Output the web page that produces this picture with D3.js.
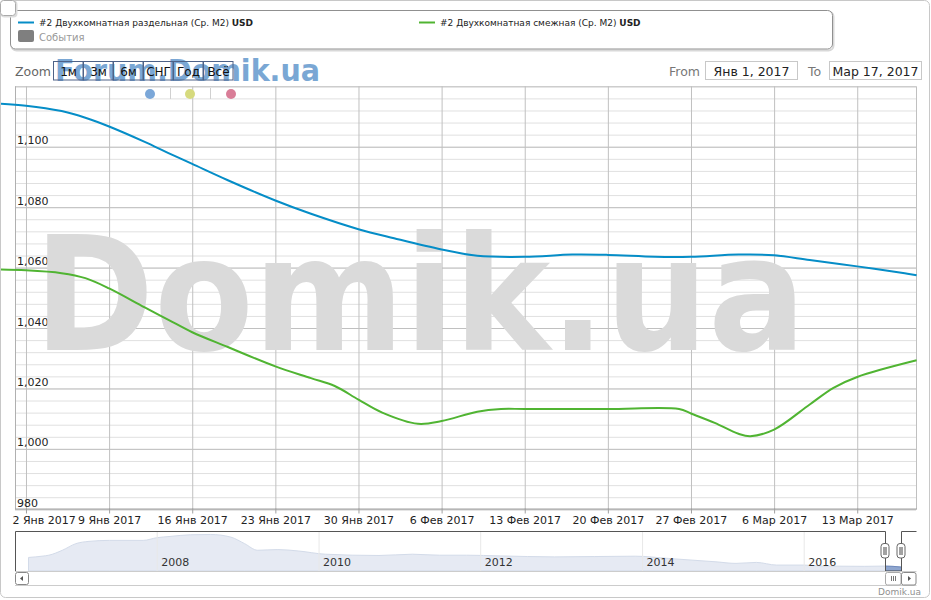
<!DOCTYPE html>
<html><head><meta charset="utf-8">
<script src="https://cdn.jsdelivr.net/npm/d3@7"></script>
<style>
body{margin:0;background:#fff}
svg{display:block;font-family:"DejaVu Sans",sans-serif}
</style>
</head><body>
<svg id="c" width="931" height="600"></svg>
<script>
// ---------- DATA ----------
const seriesNames = ["#2 Двухкомнатная раздельная (Ср. М2)", "#2 Двухкомнатная смежная (Ср. М2)"];
const seriesUnit = "USD";
const seriesColors = ["#058DC7", "#50B432"];
const eventsLabel = "События";

const blueDates = ["2016-12-30","2017-01-02","2017-01-05","2017-01-07","2017-01-09","2017-01-12","2017-01-14","2017-01-16","2017-01-19","2017-01-23","2017-01-26","2017-01-30","2017-02-02","2017-02-06","2017-02-09","2017-02-13","2017-02-17","2017-02-20","2017-02-24","2017-02-27","2017-03-03","2017-03-06","2017-03-09","2017-03-13","2017-03-17","2017-03-18"];
const blueValues = [1114.4,1113.6,1111.8,1109.6,1106.7,1101.6,1097.9,1094.3,1088.9,1082.2,1077.8,1072.7,1069.7,1066.0,1063.9,1063.55,1064.3,1064.2,1063.6,1063.6,1064.3,1064.1,1062.5,1060.4,1058.1,1057.5];

const greenDates = ["2016-12-30","2017-01-02","2017-01-05","2017-01-07","2017-01-09","2017-01-12","2017-01-14","2017-01-16","2017-01-19","2017-01-23","2017-01-26","2017-01-28","2017-01-30","2017-02-01","2017-02-04","2017-02-06","2017-02-09","2017-02-11","2017-02-13","2017-02-20","2017-02-26","2017-02-27","2017-03-01","2017-03-03","2017-03-04","2017-03-06","2017-03-09","2017-03-11","2017-03-13","2017-03-18"];
const greenValues = [1059.4,1059.1,1058.15,1056.5,1053.1,1046.8,1042.7,1038.6,1033.7,1027.3,1023.4,1020.8,1016.3,1012.0,1008.3,1009.2,1012.3,1013.2,1013.2,1013.2,1013.2,1011.7,1008.6,1005.0,1004.2,1006.4,1014.7,1020.2,1023.8,1029.3];

const yMajorTicks = [980,1000,1020,1040,1060,1080,1100,1120];
const yTickLabels = ["980","1,000","1,020","1,040","1,060","1,080","1,100",""];
const xTickDates = ["2017-01-02","2017-01-09","2017-01-16","2017-01-23","2017-01-30","2017-02-06","2017-02-13","2017-02-20","2017-02-27","2017-03-06","2017-03-13"];
const xTickLabels = ["2 Янв 2017","9 Янв 2017","16 Янв 2017","23 Янв 2017","30 Янв 2017","6 Фев 2017","13 Фев 2017","20 Фев 2017","27 Фев 2017","6 Мар 2017","13 Мар 2017"];

const navDates = ["2006-06-01","2006-08-01","2006-09-01","2006-11-01","2007-01-01","2007-03-01","2007-06-01","2007-11-01","2008-01-01","2008-03-01","2008-06-01","2008-09-01","2008-12-01","2009-02-01","2009-04-01","2009-07-01","2009-10-01","2010-02-01","2010-10-01","2011-03-01","2011-07-01","2011-11-01","2012-04-01","2012-12-01","2013-12-01","2014-05-01","2014-12-01","2015-03-01","2015-06-01","2015-09-01","2016-01-01","2016-04-01","2016-10-01","2017-01-01","2017-03-17"];
const navValues = [1408,1460,1500,1700,1968,2060,2100,2100,2208,2260,2328,2340,2232,1968,1700,1728,1672,1540,1488,1540,1500,1500,1472,1432,1460,1368,1232,1168,1208,1100,1100,1060,1048,1060,1020];
const navYears = ["2008","2010","2012","2014","2016"];

const zoomButtons = ["1м","3м","6м","СНГ","Год","Всё"];
const rangeFromLabel = "Янв 1, 2017";
const rangeToLabel = "Мар 17, 2017";

// ---------- CHART ----------
const svg = d3.select("#c");
const parse = d3.utcParse("%Y-%m-%d");
const plot = {l:15, r:916, t:86.3, b:509.3};

const x = d3.scaleUtc().domain([parse("2017-01-01"), parse("2017-03-18")]).range([14.1, 916.6]);
const y = d3.scaleLinear().domain([980,1120]).range([509.3, 86.3]);

// outer border
svg.append("rect").attr("x",0.5).attr("y",0.5).attr("width",929).attr("height",597).attr("rx",5)
  .attr("fill","#fff").attr("stroke","#c8c8c8");

// minor y grid
const minor = d3.range(980, 1121, 4);
const gMinor = svg.append("g").attr("transform",`translate(${plot.l},0)`)
  .call(d3.axisRight(y).tickValues(minor).tickSize(plot.r-plot.l).tickFormat(""));
gMinor.select(".domain").remove();
gMinor.selectAll("line").attr("stroke","#e0e0e0");

// vertical grid
const gX = svg.append("g").attr("transform",`translate(0,${plot.b})`)
  .call(d3.axisBottom(x).tickValues(xTickDates.map(parse)).tickSize(-(plot.b-plot.t)).tickFormat(""));
gX.select(".domain").remove();
gX.selectAll("line").attr("stroke","#c0c0c0");

// major y grid + labels
const gY = svg.append("g").attr("transform",`translate(${plot.l},0)`)
  .call(d3.axisRight(y).tickValues(yMajorTicks).tickSize(plot.r-plot.l)
    .tickFormat((d,i)=>yTickLabels[i]));
gY.select(".domain").remove();
gY.selectAll("line").attr("stroke","#c0c0c0");
gY.selectAll("text").attr("x",2).attr("dy",0).attr("y",-3).attr("text-anchor","start")
  .attr("font-size",11).attr("font-family","DejaVu Sans").attr("fill","#222");

// plot border left/right
svg.append("line").attr("x1",plot.l+0.5).attr("x2",plot.l+0.5).attr("y1",plot.t).attr("y2",plot.b).attr("stroke","#b0b0b0");
svg.append("line").attr("x1",plot.r+0.5).attr("x2",plot.r+0.5).attr("y1",plot.t).attr("y2",plot.b).attr("stroke","#c0c0c0");

// x axis with labels
const gXA = svg.append("g").attr("transform",`translate(0,${plot.b-0.8})`)
  .call(d3.axisBottom(x).tickValues(xTickDates.map(parse)).tickSize(5).tickPadding(3)
    .tickFormat((d,i)=>xTickLabels[i]));
gXA.select(".domain").attr("d",`M${plot.l},0.5H${plot.r+1}`).attr("stroke","#a0a0a0");
gXA.selectAll("line").attr("stroke","#a0a0a0");
gXA.selectAll("text").attr("font-size",11).attr("font-family","DejaVu Sans").attr("fill","#222");
gXA.selectAll(".tick").filter((d,i)=>i===0).select("text").attr("text-anchor","start").attr("x",-14);

// watermark
svg.append("text").attr("x",34).attr("y",350).text("Domik.ua")
  .attr("font-size",158).attr("font-weight","bold").attr("fill","#dadada")
  .attr("textLength",772).attr("lengthAdjust","spacingAndGlyphs");

// dots
const dotColors = ["#7ba7d8","#d6da7e","#d97d97"];
[150,190,231].forEach((cx,i)=>svg.append("circle").attr("cx",cx).attr("cy",94).attr("r",5).attr("fill",dotColors[i]));
[170.5,210.5].forEach(sx=>svg.append("line").attr("x1",sx).attr("x2",sx).attr("y1",88).attr("y2",99).attr("stroke","#d0d0d0"));

// series
svg.append("clipPath").attr("id","clip").append("rect").attr("x",1).attr("y",plot.t).attr("width",plot.r+1).attr("height",plot.b-plot.t);
const line = d3.line().x(d=>x(d[0])).y(d=>y(d[1])).curve(d3.curveCatmullRom.alpha(0.5));
const series = [
  blueDates.map((d,i)=>[parse(d), blueValues[i]]),
  greenDates.map((d,i)=>[parse(d), greenValues[i]])
];
series.forEach((s,i)=>svg.append("path").attr("d",line(s)).attr("fill","none")
  .attr("stroke",seriesColors[i]).attr("stroke-width",2).attr("clip-path","url(#clip)"));

// ---------- LEGEND ----------
svg.append("rect").attr("x",11.5).attr("y",11.5).attr("width",822).attr("height",39).attr("rx",5)
  .attr("fill","none").attr("stroke","#d8d8d8").attr("stroke-width",2);
svg.append("rect").attr("x",10.5).attr("y",10.5).attr("width",822).attr("height",38.5).attr("rx",5)
  .attr("fill","#fff").attr("stroke","#909090");
const legX = [18, 419];
series.forEach((s,i)=>{
  svg.append("line").attr("x1",legX[i]).attr("x2",legX[i]+16).attr("y1",22.5).attr("y2",22.5)
    .attr("stroke",seriesColors[i]).attr("stroke-width",2);
  const t = svg.append("text").attr("x",legX[i]+21).attr("y",25.5).attr("font-size",9).attr("fill","#222");
  t.append("tspan").text(seriesNames[i]+" ");
  t.append("tspan").attr("font-weight","bold").text(seriesUnit);
});
svg.append("rect").attr("x",18).attr("y",30).attr("width",16).attr("height",12).attr("rx",2).attr("fill","#7f7f7f");
svg.append("text").attr("x",39).attr("y",40.5).attr("font-size",10).attr("fill","#999").text(eventsLabel);

// corner button
svg.append("rect").attr("x",1.5).attr("y",1.5).attr("width",15).attr("height",15).attr("rx",3).attr("fill","none").attr("stroke","#ddd").attr("stroke-width",2);
svg.append("rect").attr("x",0.5).attr("y",0.5).attr("width",15).attr("height",15).attr("rx",3).attr("fill","#fff").attr("stroke","#aaa");

// ---------- RANGE SELECTOR ----------
svg.append("text").attr("x",15).attr("y",76).attr("font-size",12.5).attr("fill","#666").text("Zoom");
svg.append("text").attr("x",55).attr("y",80.5).text("Forum.Domik.ua")
  .attr("font-size",30).attr("font-weight","bold").attr("fill","#7aa7d4")
  .attr("textLength",265).attr("lengthAdjust","spacingAndGlyphs");
zoomButtons.forEach((b,i)=>{
  const bx = 53.5 + i*30;
  svg.append("rect").attr("x",bx).attr("y",61.5).attr("width",29.5).attr("height",18.5)
    .attr("fill","none").attr("stroke","#4e6287");
  svg.append("text").attr("x",bx+15).attr("y",76).attr("text-anchor","middle")
    .attr("font-size",12).attr("fill","#111").text(b);
});
svg.append("text").attr("x",700).attr("y",76).attr("text-anchor","end").attr("font-size",12.5).attr("fill","#777").text("From");
svg.append("rect").attr("x",705.5).attr("y",61.5).attr("width",92).attr("height",18).attr("fill","#fff").attr("stroke","#c8c8c8");
svg.append("text").attr("x",751.5).attr("y",76).attr("text-anchor","middle").attr("font-size",12.5).attr("fill","#222").text(rangeFromLabel);
svg.append("text").attr("x",808).attr("y",76).attr("font-size",12.5).attr("fill","#777").text("To");
svg.append("rect").attr("x",829.5).attr("y",61.5).attr("width",92).attr("height",18).attr("fill","#fff").attr("stroke","#c8c8c8");
svg.append("text").attr("x",875.5).attr("y",76).attr("text-anchor","middle").attr("font-size",12.5).attr("fill","#222").text(rangeToLabel);

// ---------- NAVIGATOR ----------
const nav = {t:531.5, b:571};
const xn = d3.scaleUtc().domain([parse("2008-01-01"), parse("2016-01-01")]).range([156.7, 803.7]);
const yn = d3.scaleLinear().domain([860, 2460]).range([nav.b, nav.t]);
const gN = svg.append("g").attr("transform",`translate(0,${nav.b})`)
  .call(d3.axisBottom(xn).tickValues(navYears.map(yr=>parse(yr+"-01-01"))).tickSize(-(nav.b-nav.t)).tickFormat((d,i)=>navYears[i]));
gN.select(".domain").remove();
gN.selectAll("line").attr("stroke","#e8e8e8");
gN.selectAll("text").attr("text-anchor","start").attr("x",4).attr("y",-5).attr("dy",0)
  .attr("font-size",11).attr("font-family","DejaVu Sans").attr("fill","#333");
const navData = navDates.map((d,i)=>[parse(d), navValues[i]]);
const area = d3.area().x(d=>xn(d[0])).y0(nav.b).y1(d=>yn(d[1])).curve(d3.curveMonotoneX);
svg.insert("path", () => gN.node()).attr("d",area(navData)).attr("fill","#e6eaf3").attr("stroke","#d3dbe9");
// selected mask
const sx0 = 885.5, sx1 = 901.5;
svg.append("clipPath").attr("id","selclip").append("rect").attr("x",sx0).attr("y",nav.t).attr("width",sx1-sx0).attr("height",nav.b-nav.t);
svg.append("path").attr("d",area(navData)).attr("fill","#8fa6cf").attr("stroke","#6f89bb").attr("clip-path","url(#selclip)");
// outline
svg.append("path").attr("d",`M15.5,${nav.b}V${nav.t}H${sx0}V${nav.b}H${sx1}V${nav.t}H916.5`)
  .attr("fill","none").attr("stroke","#555");
svg.append("line").attr("x1",15).attr("x2",916.5).attr("y1",nav.b+0.5).attr("y2",nav.b+0.5).attr("stroke","#ccc");
// handles
[sx0, sx1].forEach(hx=>{
  svg.append("rect").attr("x",hx-4.5).attr("y",543.5).attr("width",8).attr("height",14.5).attr("rx",3)
    .attr("fill","#fff").attr("stroke","#666");
  [-1.5,0.5].forEach(o=>svg.append("line").attr("x1",hx+o).attr("x2",hx+o).attr("y1",547).attr("y2",555).attr("stroke","#444"));
});
// scrollbar
svg.append("line").attr("x1",15).attr("x2",916.5).attr("y1",585.5).attr("y2",585.5).attr("stroke","#ccc");
svg.append("rect").attr("x",15.5).attr("y",572.5).attr("width",13).attr("height",12).attr("rx",2).attr("fill","#fff").attr("stroke","#888");
svg.append("path").attr("d","M20,578.5L23,576V581Z").attr("fill","#555");
svg.append("rect").attr("x",885.5).attr("y",572.5).attr("width",15.5).attr("height",12.5).attr("rx",2).attr("fill","#fff").attr("stroke","#aaa");
[-2,0,2].forEach(o=>svg.append("line").attr("x1",893.5+o).attr("x2",893.5+o).attr("y1",576).attr("y2",581).attr("stroke","#777"));
svg.append("rect").attr("x",901.5).attr("y",572.5).attr("width",14.5).attr("height",12.5).attr("rx",2).attr("fill","#fff").attr("stroke","#888");
svg.append("path").attr("d","M911,578.5L908,576V581Z").attr("fill","#555");

// credits
svg.append("text").attr("x",921).attr("y",595).attr("text-anchor","end").attr("font-size",9).attr("fill","#909090").text("Domik.ua");
</script>
</body></html>
